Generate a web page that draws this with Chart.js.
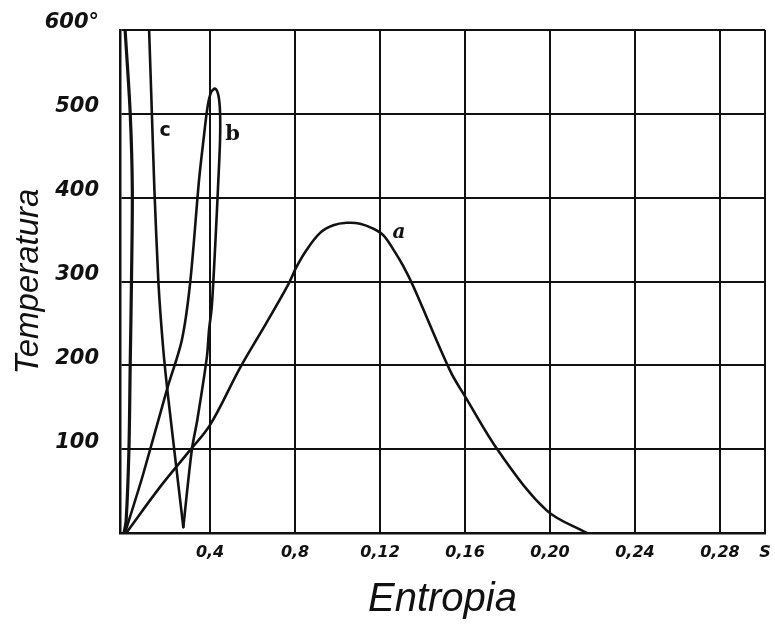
<!DOCTYPE html>
<html>
<head>
<meta charset="utf-8">
<script src="https://cdn.jsdelivr.net/npm/chart.js@4/dist/chart.umd.min.js"></script>
<style>
html,body{margin:0;padding:0;background:#ffffff;}
canvas{display:block;}
</style>
</head>
<body>
<canvas id="chart" width="775" height="626"></canvas>
<script>
// ---- data ----
const xTickValues = [0.04, 0.08, 0.12, 0.16, 0.20, 0.24, 0.28, 0.3012];
const xTickLabels = ['0,4', '0,8', '0,12', '0,16', '0,20', '0,24', '0,28', 'S'];
const yTickValues = [0, 100, 200, 300, 400, 500, 600];
const yTickLabels = ['', '100', '200', '300', '400', '500', '600°'];

const aEntropy = [0.0005, 0.0165, 0.0300, 0.0400, 0.0541, 0.0659, 0.0767, 0.0808, 0.0855, 0.0918, 0.0980, 0.1043, 0.1106, 0.1168, 0.1216, 0.1263, 0.1310, 0.1357, 0.1529, 0.1600, 0.1765, 0.1984, 0.2173];
const aTemp    = [0, 55, 97, 129, 197, 248, 296, 318, 338, 358, 367, 370, 369, 363, 355, 338, 318, 294, 194, 163, 95, 27, 0];

const bEntropy = [0.0274, 0.0314, 0.0340, 0.0385, 0.0395, 0.0408, 0.0424, 0.0439, 0.0447, 0.0447, 0.0440, 0.0424, 0.0405, 0.0388, 0.0369, 0.0348, 0.0306, 0.0267, 0.0198, 0.0086, 0.0008, -0.0002];
const bTemp    = [7, 99, 135, 210, 242, 270, 342, 421, 469, 501, 521, 530, 526, 508, 469, 421, 298, 230, 172, 71, 7, 0];

const cLeftEntropy  = [0.0000, 0.0024, 0.0034, 0.0030, 0.0024, 0.0018, 0.0005, -0.0005];
const cLeftTemp     = [600, 501, 409, 300, 200, 99, 15, 0];
const cRightEntropy = [0.0113, 0.0126, 0.0138, 0.0157, 0.0180, 0.0204, 0.0274];
const cRightTemp    = [600, 501, 409, 298, 218, 159, 7];

const curveLabels   = ['a', 'b', 'c'];
const labelEntropy  = [0.1289, 0.0506, 0.0188];
const labelTemp     = [358, 475, 479];

// ---- helpers ----
const toPoints = (xs, ys) => xs.map((v, i) => ({ x: v, y: ys[i] }));
const INK = '#111111';

const lineStyle = (tension, width) => ({
  borderColor: INK,
  borderWidth: width,
  pointRadius: 0,
  fill: false,
  tension: tension,
  borderCapStyle: 'round',
  borderJoinStyle: 'round'
});

const labelFonts = {
  a: 'italic 600 20px "DejaVu Serif", serif',
  b: 'bold 21px "DejaVu Serif", serif',
  c: 'bold 19px "DejaVu Sans", sans-serif'
};

const curveLabelPlugin = {
  id: 'curveLabels',
  afterDatasetsDraw(chart) {
    const { ctx, scales } = chart;
    ctx.save();
    ctx.fillStyle = INK;
    ctx.textAlign = 'center';
    ctx.textBaseline = 'middle';
    curveLabels.forEach((t, i) => {
      ctx.font = labelFonts[t];
      ctx.fillText(t, scales.x.getPixelForValue(labelEntropy[i]), scales.y.getPixelForValue(labelTemp[i]));
    });
    ctx.restore();
  }
};

new Chart(document.getElementById('chart'), {
  type: 'line',
  data: {
    datasets: [
      Object.assign({ label: 'a', data: toPoints(aEntropy, aTemp) }, lineStyle(0.35, 2.6)),
      Object.assign({ label: 'b', data: toPoints(bEntropy, bTemp) }, lineStyle(0.3, 2.6)),
      Object.assign({ label: 'c', data: toPoints(cLeftEntropy, cLeftTemp) }, lineStyle(0.3, 3.2)),
      Object.assign({ label: 'c ', data: toPoints(cRightEntropy, cRightTemp) }, lineStyle(0.2, 2.6))
    ]
  },
  options: {
    responsive: false,
    animation: false,
    devicePixelRatio: 1,
    layout: { padding: { top: 30, right: 10, left: 0, bottom: 0 } },
    plugins: { legend: { display: false }, tooltip: { enabled: false } },
    scales: {
      x: {
        type: 'linear',
        min: -0.0024,
        max: 0.3012,
        afterBuildTicks: (scale) => { scale.ticks = xTickValues.map(v => ({ value: v })); },
        afterFit: (scale) => { scale.height = 93; scale.paddingLeft = 0; scale.paddingRight = 0; },
        ticks: {
          autoSkip: false,
          maxRotation: 0,
          padding: 10,
          color: INK,
          font: { family: '"DejaVu Sans", sans-serif', size: 16, weight: 'bold', style: 'italic' },
          callback: (value) => {
            const i = xTickValues.findIndex(v => Math.abs(v - value) < 1e-6);
            return i >= 0 ? xTickLabels[i] : '';
          }
        },
        grid: { color: INK, lineWidth: 2, drawTicks: false },
        border: { display: true, color: INK, width: 2.5 },
        title: {
          display: true,
          text: 'Entropia',
          color: INK,
          font: { family: '"Liberation Sans", Arial, sans-serif', size: 40, style: 'italic' },
          padding: { top: 0, bottom: 2 }
        }
      },
      y: {
        type: 'linear',
        min: 0,
        max: 600,
        afterBuildTicks: (scale) => { scale.ticks = yTickValues.map(v => ({ value: v })); },
        afterFit: (scale) => { scale.width = 120; scale.paddingTop = 0; scale.paddingBottom = 0; },
        ticks: {
          autoSkip: false,
          padding: 21,
          labelOffset: -7,
          color: INK,
          font: { family: '"DejaVu Sans", sans-serif', size: 21, weight: 'bold', style: 'italic' },
          callback: (value) => {
            const i = yTickValues.indexOf(value);
            return i >= 0 ? yTickLabels[i] : '';
          }
        },
        grid: { color: INK, lineWidth: 2, drawTicks: false },
        border: { display: true, color: INK, width: 2.5 },
        title: {
          display: true,
          text: 'Temperatura',
          color: INK,
          font: { family: '"Liberation Sans", Arial, sans-serif', size: 33, style: 'italic' },
          padding: { top: 9, bottom: 0 }
        }
      }
    }
  },
  plugins: [curveLabelPlugin]
});
</script>
</body>
</html>
